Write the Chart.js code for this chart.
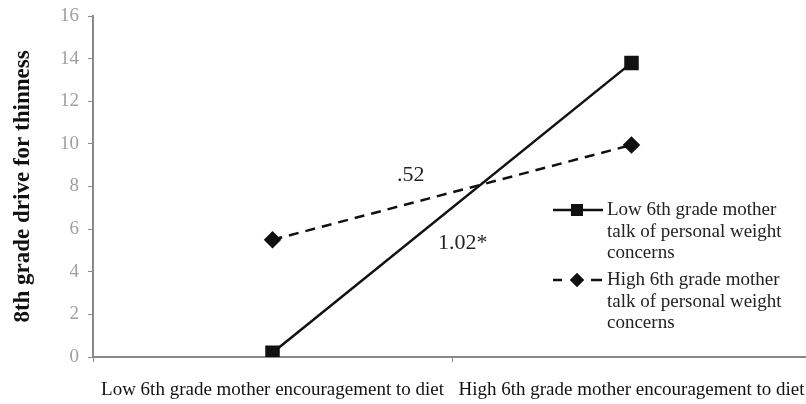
<!DOCTYPE html>
<html><head><meta charset="utf-8">
<script src="https://cdn.jsdelivr.net/npm/chart.js@4/dist/chart.umd.min.js"></script>
<style>
html,body{margin:0;padding:0;background:#fff;overflow:hidden;width:806px;height:404px;}
canvas{display:block;}
</style></head>
<body><canvas id="c" width="822" height="404" style="width:822px;height:404px"></canvas>
<script>
const categories = ["Low 6th grade mother encouragement to diet", "High 6th grade mother encouragement to diet"];
const lowTalk = [0.2, 13.8];
const highTalk = [5.5, 9.95];
const seriesNames = [["Low 6th grade mother", "talk of personal weight", "concerns"], ["High 6th grade mother", "talk of personal weight", "concerns"]];
const yTicks = [0, 2, 4, 6, 8, 10, 12, 14, 16];
const slopeLabels = [
  {text: ".52", x: 0.385, y: 8.55},
  {text: "1.02*", x: 0.53, y: 5.35}
];
const yTitle = "8th grade drive for thinness";

const SERIF = "'Liberation Serif', 'Times New Roman', serif";

const overlay = {
  id: 'overlay',
  afterDatasetsDraw(chart) {
    const ctx = chart.ctx;
    const xs = chart.scales.x, ys = chart.scales.y;
    ctx.save();
    ctx.fillStyle = '#222';
    ctx.font = '22px ' + SERIF;
    ctx.textAlign = 'center';
    ctx.textBaseline = 'middle';
    slopeLabels.forEach(l => {
      ctx.fillText(l.text, xs.getPixelForValue(l.x), ys.getPixelForValue(l.y));
    });
    // legend
    const lx = 553, tx = 607;
    const starts = [210, 280];
    chart.data.datasets.forEach((ds, i) => {
      const y0 = starts[i];
      ctx.strokeStyle = ds.borderColor;
      ctx.lineWidth = ds.borderWidth;
      ctx.beginPath();
      if (ds.borderDash && ds.borderDash.length) {
        ctx.moveTo(lx, y0); ctx.lineTo(lx + 9, y0);
        ctx.moveTo(lx + 38, y0); ctx.lineTo(lx + 49, y0);
      } else {
        ctx.moveTo(lx, y0); ctx.lineTo(lx + 50, y0);
      }
      ctx.stroke();
      Chart.helpers.drawPoint(ctx, {pointStyle: ds.pointStyle, radius: ds.pointRadius, borderWidth: 0}, lx + 24, y0);
      ctx.fillStyle = ds.pointBackgroundColor;
      ctx.fill();
      ctx.fillStyle = '#222';
      ctx.font = '19px ' + SERIF;
      ctx.textAlign = 'left';
      seriesNames[i].forEach((t, k) => ctx.fillText(t, tx, y0 + k * 21.7));
    });
    ctx.restore();
  }
};

new Chart(document.getElementById('c'), {
  type: 'line',
  data: {
    labels: categories,
    datasets: [
      {label: seriesNames[0].join(' '), data: lowTalk, borderColor: '#111', backgroundColor: '#111',
       pointBackgroundColor: '#111', pointBorderColor: '#111', borderWidth: 2.5, pointStyle: 'rect', pointRadius: 8.5, pointHoverRadius: 8.5, tension: 0},
      {label: seriesNames[1].join(' '), data: highTalk, borderColor: '#111', backgroundColor: '#111', borderDash: [10, 7],
       pointBackgroundColor: '#111', pointBorderColor: '#111', borderWidth: 2.5, pointStyle: 'rectRot', pointRadius: 7, pointHoverRadius: 7, tension: 0}
    ]
  },
  options: {
    responsive: false,
    maintainAspectRatio: false,
    animation: false,
    layout: {padding: {top: 16, left: 0, right: 0, bottom: 0}},
    plugins: {legend: {display: false}, tooltip: {enabled: false}},
    scales: {
      x: {
        offset: true,
        grid: {display: true, drawOnChartArea: false, offset: true, color: '#888', tickLength: 5, lineWidth: 1},
        border: {display: true, color: '#888', width: 2},
        ticks: {color: '#111', font: {family: SERIF, size: 19, lineHeight: 1.7}, padding: 12, maxRotation: 0, autoSkip: false},
        afterFit(s) { s.height = 47; }
      },
      y: {
        min: 0, max: 16,
        afterBuildTicks(s) { s.ticks = yTicks.map(v => ({value: v})); },
        grid: {display: true, drawOnChartArea: false, color: '#888', tickLength: 5},
        border: {display: true, color: '#888', width: 2},
        ticks: {color: '#a0a0a0', font: {family: SERIF, size: 19}, padding: 9},
        title: {display: true, text: yTitle, color: '#111', font: {family: SERIF, size: 23, weight: 'bold'}, padding: {top: 9, bottom: 0}},
        afterFit(s) { s.width = 93; s.paddingTop = 0; s.paddingBottom = 0; }
      }
    }
  },
  plugins: [overlay]
});
</script></body></html>
